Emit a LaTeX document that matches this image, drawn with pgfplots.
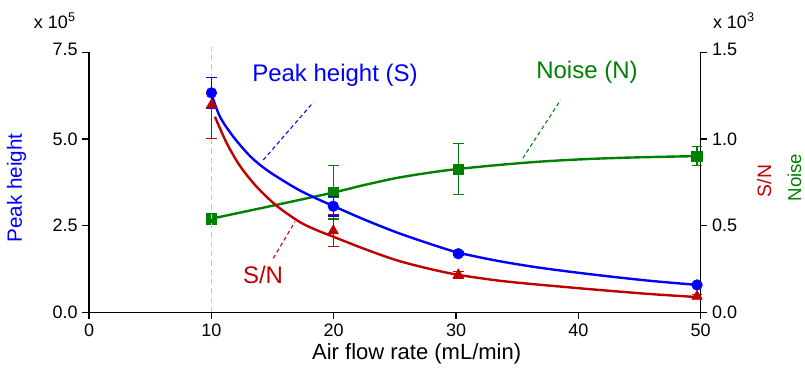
\documentclass[border=0pt]{standalone}
\usepackage{fontspec}
\setmainfont{Liberation Sans}
\usepackage{pgfplots}
\pgfplotsset{compat=1.18}
\definecolor{cblue}{RGB}{0,0,255}
\definecolor{cgreen}{RGB}{0,128,0}
\definecolor{cred}{RGB}{192,0,0}
\begin{document}
\begin{tikzpicture}
\path[use as bounding box] (0,0) rectangle (603.75pt,279.75pt);
\pgfplotsset{
  common/.style={
    at={(66.825pt,45.525pt)}, anchor=south west,
    scale only axis, width=458.7pt, height=195pt,
    xmin=0, xmax=50, clip=false,
    tick align=outside, major tick length=5pt,
    tick style={black, line width=1pt},
    axis line style={black, line width=1pt, -},
    tick label style={font=\fontsize{13.5}{16}\selectfont},
  },
  ebar/.style={error bars/.cd, y dir=both, y explicit,
    error bar style={line width=1.1pt},
    error mark options={rotate=90, mark size=4pt, line width=1.1pt}},
}
% ---------- right axis: Noise ----------
\begin{axis}[common, axis x line=none, axis y line*=right,
  ymin=0, ymax=1.5, ytick={0,0.5,1,1.5},
  yticklabels={\raisebox{-2.6pt}{0.0},0.5,1.0,\raisebox{4.5pt}{1.5}}]
\addplot[cgreen, line width=1.8pt, smooth, no marks] coordinates {
 (10,0.540) (15,0.615) (19.97,0.691) (22.42,0.733) (25.15,0.775) (27.87,0.806)
 (30.19,0.827) (33.33,0.849) (36.05,0.865) (37.93,0.874) (40.69,0.884)
 (43.41,0.891) (46.13,0.896) (49.68,0.901)};
\addplot[cgreen, only marks, mark=square*, mark size=4pt, ebar] coordinates {
 (10,0.538) +- (0,0.01)
 (19.96,0.692) +- (0,0.154)
 (30.18,0.826) +- (0,0.147)
 (49.7,0.901) +- (0,0.055)};
\node[anchor=base, rotate=90, text=cred, font=\fontsize{14.5}{17}\selectfont] at (axis cs:55.75,0.7575) {S/N};
\node[anchor=base, rotate=90, text=cgreen, font=\fontsize{14}{17}\selectfont] at (axis cs:58.2,0.7777) {Noise};
\node[anchor=base west, font=\fontsize{13.5}{16}\selectfont] at (axis cs:50.62,1.638) {x 10\textsuperscript{3}};
\end{axis}
% ---------- left axis: Peak height and S/N ----------
\begin{axis}[common, axis x line*=bottom, axis y line*=left,
  ymin=0, ymax=7.5, ytick={0,2.5,5,7.5},
  yticklabels={\raisebox{-4pt}{0.0},2.5,5.0,\raisebox{4.5pt}{7.5}},
  xtick={0,10,20,30,40,50}, xticklabels={0,10,20,30,40,50}]
\draw[gray!45, line width=0.8pt, dash pattern=on 4pt off 3pt] (axis cs:10,0) -- (axis cs:10,7.66);
% S/N
\addplot[cred, line width=1.8pt, smooth, no marks] coordinates {
 (10.29,5.64) (11.25,4.88) (12.34,4.22) (13.70,3.62) (15.34,3.07)
 (17.24,2.60) (18.61,2.37) (19.97,2.18) (22.42,1.84) (25.15,1.50)
 (27.87,1.25) (30.19,1.08) (33.33,0.92) (36.05,0.82) (37.95,0.76)
 (40.68,0.675) (43.41,0.595) (46.13,0.52) (49.67,0.44)};
\addplot[cred, only marks, mark=triangle*, mark size=4.5pt, ebar] coordinates {
 (10,5.98) += (0,0.35) -= (0,0.96)
 (19.96,2.35) +- (0,0.45)
 (30.18,1.08) +- (0,0.10)
 (49.7,0.46) +- (0,0.05)};
% Peak height
\addplot[cblue, line width=1.8pt, smooth, no marks] coordinates {
 (10,6.30) (10.7,5.64) (11.8,5.06) (13.2,4.49) (14.5,4.11) (15.9,3.79)
 (17.2,3.52) (18.6,3.28) (20,3.06) (22.4,2.69) (25.1,2.31) (27.9,1.97)
 (30.2,1.72) (33.3,1.49) (36,1.33) (38,1.23) (40.7,1.11) (43.4,1.00)
 (46.1,0.90) (49.7,0.79)};
\addplot[cblue, only marks, mark=*, mark size=4pt, ebar] coordinates {
 (10,6.33) +- (0,0.45)
 (19.96,3.06) +- (0,0.28)
 (30.18,1.69) +- (0,0.05)
 (49.7,0.79) +- (0,0.03)};
% annotations
\draw[cblue, line width=0.8pt, dash pattern=on 3pt off 2.2pt] (axis cs:14.24,4.393) -- (axis cs:18.33,6.058);
\draw[cgreen, line width=0.8pt, dash pattern=on 3pt off 2.2pt] (axis cs:35.45,4.442) -- (axis cs:38.55,6.124);
\draw[cred, line width=0.8pt, dash pattern=on 3pt off 2.2pt] (axis cs:15.06,1.558) -- (axis cs:16.83,2.613);
\node[anchor=base, text=cblue, font=\fontsize{18}{21}\selectfont] at (axis cs:20.10,6.672) {Peak height (S)};
\node[anchor=base, text=cgreen, font=\fontsize{18}{21}\selectfont] at (axis cs:40.70,6.750) {Noise (N)};
\node[anchor=base, text=cred, font=\fontsize{18}{21}\selectfont] at (axis cs:14.22,0.837) {S/N};
\node[anchor=base, rotate=90, text=cblue, font=\fontsize{15.5}{18}\selectfont] at (axis cs:-5.49,3.586) {Peak height};
\node[anchor=base, font=\fontsize{16.5}{20}\selectfont, yshift=-35.2pt] at (axis cs:26.78,0) {Air flow rate (mL/min)};
\node[anchor=base west, font=\fontsize{13.5}{16}\selectfont] at (axis cs:-4.89,8.19) {x 10\textsuperscript{5}};
\end{axis}
\end{tikzpicture}
\end{document}
